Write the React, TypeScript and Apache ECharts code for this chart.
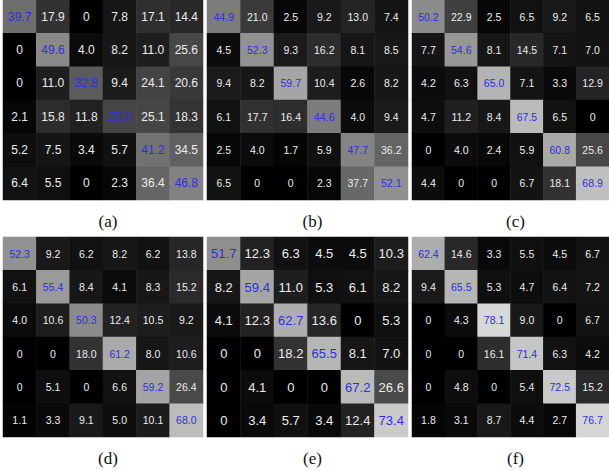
import React, { useEffect, useRef } from "react";
import * as echarts from "echarts";

const panelLabels = ["(a)", "(b)", "(c)", "(d)", "(e)", "(f)"];

const matrixA = [
  [39.7, 17.9, 0, 7.8, 17.1, 14.4],
  [0, 49.6, 4.0, 8.2, 11.0, 25.6],
  [0, 11.0, 32.8, 9.4, 24.1, 20.6],
  [2.1, 15.8, 11.8, 25.0, 25.1, 18.3],
  [5.2, 7.5, 3.4, 5.7, 41.2, 34.5],
  [6.4, 5.5, 0, 2.3, 36.4, 46.8],
];
const matrixB = [
  [44.9, 21.0, 2.5, 9.2, 13.0, 7.4],
  [4.5, 52.3, 9.3, 16.2, 8.1, 8.5],
  [9.4, 8.2, 59.7, 10.4, 2.6, 8.2],
  [6.1, 17.7, 16.4, 44.6, 4.0, 9.4],
  [2.5, 4.0, 1.7, 5.9, 47.7, 36.2],
  [6.5, 0, 0, 2.3, 37.7, 52.1],
];
const matrixC = [
  [50.2, 22.9, 2.5, 6.5, 9.2, 6.5],
  [7.7, 54.6, 8.1, 14.5, 7.1, 7.0],
  [4.2, 6.3, 65.0, 7.1, 3.3, 12.9],
  [4.7, 11.2, 8.4, 67.5, 6.5, 0],
  [0, 4.0, 2.4, 5.9, 60.8, 25.6],
  [4.4, 0, 0, 6.7, 18.1, 68.9],
];
const matrixD = [
  [52.3, 9.2, 6.2, 8.2, 6.2, 13.8],
  [6.1, 55.4, 8.4, 4.1, 8.3, 15.2],
  [4.0, 10.6, 50.3, 12.4, 10.5, 9.2],
  [0, 0, 18.0, 61.2, 8.0, 10.6],
  [0, 5.1, 0, 6.6, 59.2, 26.4],
  [1.1, 3.3, 9.1, 5.0, 10.1, 68.0],
];
const matrixE = [
  [51.7, 12.3, 6.3, 4.5, 4.5, 10.3],
  [8.2, 59.4, 11.0, 5.3, 6.1, 8.2],
  [4.1, 12.3, 62.7, 13.6, 0, 5.3],
  [0, 0, 18.2, 65.5, 8.1, 7.0],
  [0, 4.1, 0, 0, 67.2, 26.6],
  [0, 3.4, 5.7, 3.4, 12.4, 73.4],
];
const matrixF = [
  [62.4, 14.6, 3.3, 5.5, 4.5, 6.7],
  [9.4, 65.5, 5.3, 4.7, 6.4, 7.2],
  [0, 4.3, 78.1, 9.0, 0, 6.7],
  [0, 0, 16.1, 71.4, 6.3, 4.2],
  [0, 4.8, 0, 5.4, 72.5, 15.2],
  [1.8, 3.1, 8.7, 4.4, 2.7, 76.7],
];

const matrices = [matrixA, matrixB, matrixC, matrixD, matrixE, matrixF];
const classes = ["1", "2", "3", "4", "5", "6"];

// layout
const colLefts = [3, 207, 412];
const colWidths = [200, 201, 197];
const rowTops = [0, 237];
const panelH = 200;
const fontSizes = [12, 10.5, 10.5, 10.5, 13, 10.5];

export default function App() {
  const ref = useRef<HTMLDivElement>(null);
  useEffect(() => {
    document.body.style.margin = "0";
    const chart = echarts.init(ref.current!, null, { renderer: "svg" });
    const grids: any[] = [];
    const xAxes: any[] = [];
    const yAxes: any[] = [];
    const series: any[] = [];
    const titles: any[] = [];
    matrices.forEach((m, i) => {
      const c = i % 3;
      const r = Math.floor(i / 3);
      grids.push({
        left: colLefts[c],
        top: rowTops[r],
        width: colWidths[c],
        height: panelH,
      });
      xAxes.push({ type: "category", data: classes, gridIndex: i, show: false });
      yAxes.push({ type: "category", data: classes, gridIndex: i, show: false, inverse: true });
      const data: any[] = [];
      m.forEach((row, ri) =>
        row.forEach((v, ci) => {
          const item: any = { value: [ci, ri, v] };
          if (ri === ci) item.label = { color: "#2e2ee0" };
          data.push(item);
        })
      );
      series.push({
        type: "heatmap",
        xAxisIndex: i,
        yAxisIndex: i,
        data,
        label: {
          show: true,
          color: "#ececec",
          fontFamily: "Liberation Sans, Arial, sans-serif",
          fontSize: fontSizes[i],
          formatter: (p: any) => {
            const v = p.value[2];
            return v === 0 ? "0" : v.toFixed(1);
          },
        },
        emphasis: { disabled: true },
      });
      titles.push({
        text: panelLabels[i],
        left: colLefts[c] + colWidths[c] / 2,
        top: rowTops[r] + panelH + 8,
        textAlign: "center",
        textStyle: {
          fontFamily: "Liberation Serif, Times New Roman, serif",
          fontSize: 17,
          fontWeight: "normal",
          color: "#111",
        },
      });
    });
    chart.setOption({
      animation: false,
      backgroundColor: "#ffffff",
      title: titles,
      grid: grids,
      xAxis: xAxes,
      yAxis: yAxes,
      visualMap: {
        show: false,
        min: 0,
        max: 92,
        seriesIndex: [0, 1, 2, 3, 4, 5],
        inRange: { color: ["#000000", "#ffffff"] },
      },
      series,
    });
    return () => chart.dispose();
  }, []);
  return <div ref={ref} style={{ width: 609, height: 470 }} />;
}
